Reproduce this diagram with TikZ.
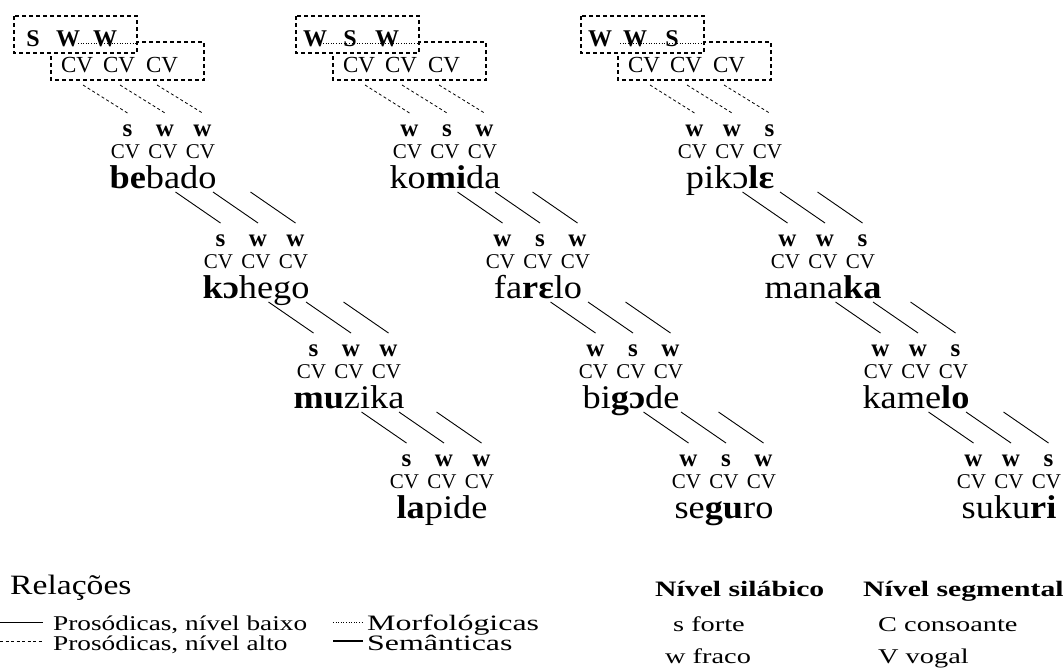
\documentclass[tikz,border=0pt]{standalone}
\usepackage{fontspec}
\setmainfont{Liberation Serif}
\newfontfamily\wordfont[FakeStretch=1.1]{Liberation Serif}
\newfontfamily\legfont[FakeStretch=1.2]{Liberation Serif}
\newfontfamily\legfontA[FakeStretch=1.3]{Liberation Serif}
\newfontfamily\legfontB[FakeStretch=1.45]{Liberation Serif}
\newfontfamily\legfontC[FakeStretch=1.35]{Liberation Serif}
\tikzset{
  dbox/.style={line width=1.3pt, dash pattern=on 4pt off 3pt},
  dline/.style={line width=0.8pt, dash pattern=on 3pt off 2.5pt},
  sline/.style={line width=0.9pt},
  morph/.style={line width=0.7pt, dash pattern=on 1pt off 1.6pt},
  sem/.style={line width=2.2pt},
  toptext/.style={inner sep=0pt, font=\fontsize{24}{26}\selectfont\bfseries},
  topcv/.style={inner sep=0pt, font=\fontsize{23}{25}\selectfont},
  cvtext/.style={inner sep=0pt, font=\fontsize{21}{23}\selectfont},
  swtext/.style={inner sep=0pt, font=\fontsize{25}{27}\selectfont\bfseries},
  wordtext/.style={inner sep=0pt, anchor=base, font=\wordfont\fontsize{33}{36}\selectfont},
  legtitle/.style={inner sep=0pt, anchor=base west, font=\legfont\fontsize{28}{30}\selectfont},
  legtextA/.style={inner sep=0pt, anchor=base west, font=\legfontA\fontsize{21}{23}\selectfont},
  legtextB/.style={inner sep=0pt, anchor=base west, font=\legfontB\fontsize{22}{24}\selectfont},
  legtextC/.style={inner sep=0pt, anchor=base west, font=\legfontC\fontsize{21}{23}\selectfont},
  legbold/.style={inner sep=0pt, anchor=base west, font=\legfontC\fontsize{22}{24}\selectfont\bfseries},
}
% #1 col, #2 x0, #3-#5 letters, #6 dotted start
\newcommand\mytop[6]{%
  \draw[dbox] (#2+51,42) rectangle (#2+204,80);
  \draw[dbox, fill=white] (#2+14,16) rectangle (#2+137,53);
  \coordinate (ds#1) at (#2+#6,43);
  \coordinate (de#1) at (#2+137,43);
  \draw[morph] (ds#1) -- (de#1);
  \node[toptext] (tl#11) at (#2+33,39) {#3};
  \node[toptext] (tl#12) at (#2+68,39) {#4};
  \node[toptext] (tl#13) at (#2+105,39) {#5};
  \node[topcv] (tc#11) at (#2+77,65) {CV};
  \node[topcv] (tc#12) at (#2+119,65) {CV};
  \node[topcv] (tc#13) at (#2+162,65) {CV};
  \foreach \k in {1,2,3} {\coordinate (td#1\k) at (#2+46+37*\k,85);}
}
% #1 col, #2 level, #3 x0, #4-#6 s/w, #7 word
\newcommand\mylevel[7]{%
  \pgfmathsetmacro\mx{#3+163+93*#2}%
  \pgfmathsetmacro\wy{176+110*#2}%
  \foreach \k/\lab in {1/#4,2/#5,3/#6} {
    \pgfmathsetmacro\cx{\mx+(\k-2)*37.5}
    \node[cvtext] (cv#1#2\k) at (\cx,\wy-24) {CV};
    \node[swtext] (sw#1#2\k) at (\cx+2,\wy-45) {\lab};
    \coordinate (a#1#2\k) at (\cx+50,\wy+16);
    \coordinate (b#1#2\k) at (\cx+2,\wy-63);
  }
  \node[wordtext] (w#1#2) at (\mx,\wy+12) {#7};
}
\begin{document}
\begin{tikzpicture}[x=1pt,y=-1pt]
\useasboundingbox (0,0) rectangle (1064,670);

\mytop{1}{0}{S}{W}{W}{78}
\mytop{2}{282}{W}{S}{W}{41}
\mytop{3}{567}{W}{W}{S}{53}

\mylevel{1}{0}{0}{s}{w}{w}{\textbf{be}bado}
\mylevel{1}{1}{0}{s}{w}{w}{\textbf{kɔ}hego}
\mylevel{1}{2}{0}{s}{w}{w}{\textbf{mu}zika}
\mylevel{1}{3}{0}{s}{w}{w}{\textbf{la}pide}

\mylevel{2}{0}{282}{w}{s}{w}{ko\textbf{mi}da}
\mylevel{2}{1}{282}{w}{s}{w}{fa\textbf{rɛ}lo}
\mylevel{2}{2}{282}{w}{s}{w}{bi\textbf{gɔ}de}
\mylevel{2}{3}{282}{w}{s}{w}{se\textbf{gu}ro}

\mylevel{3}{0}{567}{w}{w}{s}{pikɔ\textbf{lɛ}}
\mylevel{3}{1}{567}{w}{w}{s}{mana\textbf{ka}}
\mylevel{3}{2}{567}{w}{w}{s}{kame\textbf{lo}}
\mylevel{3}{3}{567}{w}{w}{s}{suku\textbf{ri}}

\foreach \c in {1,2,3} {
  \foreach \k in {1,2,3} {
    \draw[dline] (td\c\k) -- (b\c0\k);
    \draw[sline] (a\c0\k) -- (b\c1\k);
    \draw[sline] (a\c1\k) -- (b\c2\k);
    \draw[sline] (a\c2\k) -- (b\c3\k);
  }
}

% legend
\node[legtitle] (rel) at (10,594) {Relações};
\coordinate (l1a) at (0,622); \coordinate (l1b) at (43,622);
\draw[sline] (l1a) -- (l1b);
\node[legtextA] (pb) at (53,630) {Prosódicas, nível baixo};
\coordinate (l2a) at (0,641); \coordinate (l2b) at (43,641);
\draw[dline] (l2a) -- (l2b);
\node[legtextA] (pa) at (53,650) {Prosódicas, nível alto};
\coordinate (l3a) at (333,622); \coordinate (l3b) at (363,622);
\draw[morph] (l3a) -- (l3b);
\node[legtextB] (mo) at (367,630) {Morfológicas};
\coordinate (l4a) at (333,641); \coordinate (l4b) at (363,641);
\draw[sem] (l4a) -- (l4b);
\node[legtextB] (se) at (367,650) {Semânticas};

\node[legbold] (ns) at (655,596) {Nível silábico};
\node[legbold] (ng) at (863,596) {Nível segmental};
\node[legtextC] (sf) at (673,631) {s forte};
\node[legtextC] (wf) at (665,663) {w fraco};
\node[legtextC] (cc) at (878,631) {C consoante};
\node[legtextC] (vv) at (878,663) {V vogal};
\end{tikzpicture}
\end{document}
